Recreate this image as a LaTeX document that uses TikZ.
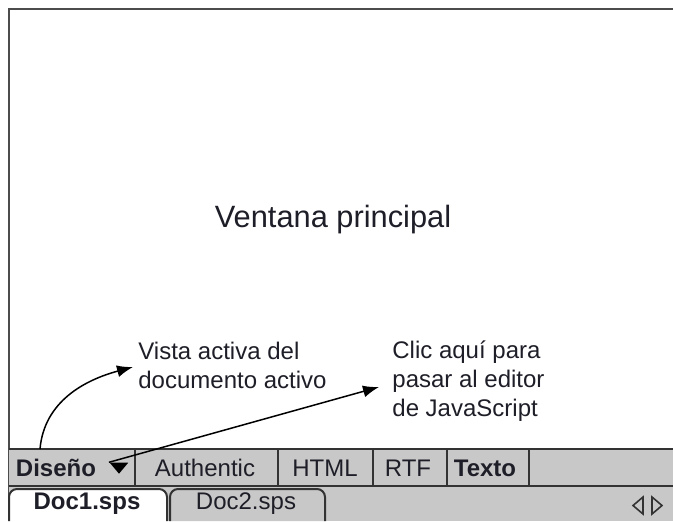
\documentclass[tikz,border=0pt]{standalone}
\usepackage{fontspec}
\setmainfont{Liberation Sans}
\usetikzlibrary{arrows.meta,shapes.geometric}

\definecolor{barfill}{RGB}{200,200,200}
\definecolor{inkcol}{RGB}{30,30,40}

\begin{document}
\begin{tikzpicture}[x=0.5pt,y=-0.5pt]
\tikzstyle{every node}=[inner sep=0pt,text=inkcol];
\tikzstyle{note}=[font=\fontsize{12}{14.5}\selectfont,align=left,anchor=north west];
\tikzstyle{btn}=[font=\fontsize{12}{14}\selectfont,anchor=base];
\tikzstyle{sep}=[draw=black!80,line width=1pt];
\tikzstyle{pointer}=[-{Latex[length=8pt,width=6pt]},line width=0.75pt,draw=black];
\useasboundingbox (0,0) rectangle (673,521);
% main window
\fill[white] (0,0) rectangle (673,521);
\draw[black!70,line width=1.4pt] (9,521) -- (9,9) -- (673,9);
\node[font=\fontsize{15.4}{18}\selectfont,anchor=base] (main) at (333,227) {Ventana principal};
% view bar
\fill[barfill] (9,449) rectangle (673,486);
\draw[sep] (9,449) -- (673,449);
\draw[sep] (9,486) -- (673,486);
\foreach \x in {135,278,373,447,529}
	\draw[sep] (\x,449) -- (\x,486);
\node[btn,font=\fontsize{12}{14}\selectfont\bfseries] (design) at (56,476) {Diseño};
\node[draw=none,fill=black,isosceles triangle,shape border rotate=270,
	isosceles triangle apex angle=80,minimum width=9pt,minimum height=5.5pt] (menu) at (119,467) {};
\node[btn] (authentic) at (205,476) {Authentic};
\node[btn] (html) at (325,476) {HTML};
\node[btn] (rtf) at (408,476) {RTF};
\node[btn,font=\fontsize{12}{14}\selectfont\bfseries] (text) at (485,476) {Texto};
% document tabs
\fill[barfill] (9,487) rectangle (673,521);
\draw[sep,fill=white,rounded corners=4pt] (9,521) -- (9,489) -- (167,489) -- (167,521);
\draw[sep,fill=barfill,rounded corners=4pt] (170,521) -- (170,489) -- (325,489) -- (325,521);
\node[btn,font=\fontsize{12}{14}\selectfont\bfseries] (doc1) at (87,509) {Doc1.sps};
\node[btn] (doc2) at (246,509) {Doc2.sps};
\draw[black!80,line width=0.8pt] (643,497) -- (633,505.5) -- (643,514) -- cycle;
\draw[black!80,line width=0.8pt] (652,497) -- (662,505.5) -- (652,514) -- cycle;
% callouts
\node[note] (view) at (138,342) {Vista activa del\\documento activo};
\node[note] (click) at (392,340) {Clic aquí para\\pasar al editor\\de JavaScript};
\coordinate (viewfoot) at (40,449);
\coordinate (viewtip) at (133,367);
\coordinate (clicktip) at (379,387);
\draw[pointer] (viewfoot) to[out=85,in=195] (viewtip);
\draw[pointer] (menu.right corner) -- (clicktip);
\end{tikzpicture}
\end{document}
